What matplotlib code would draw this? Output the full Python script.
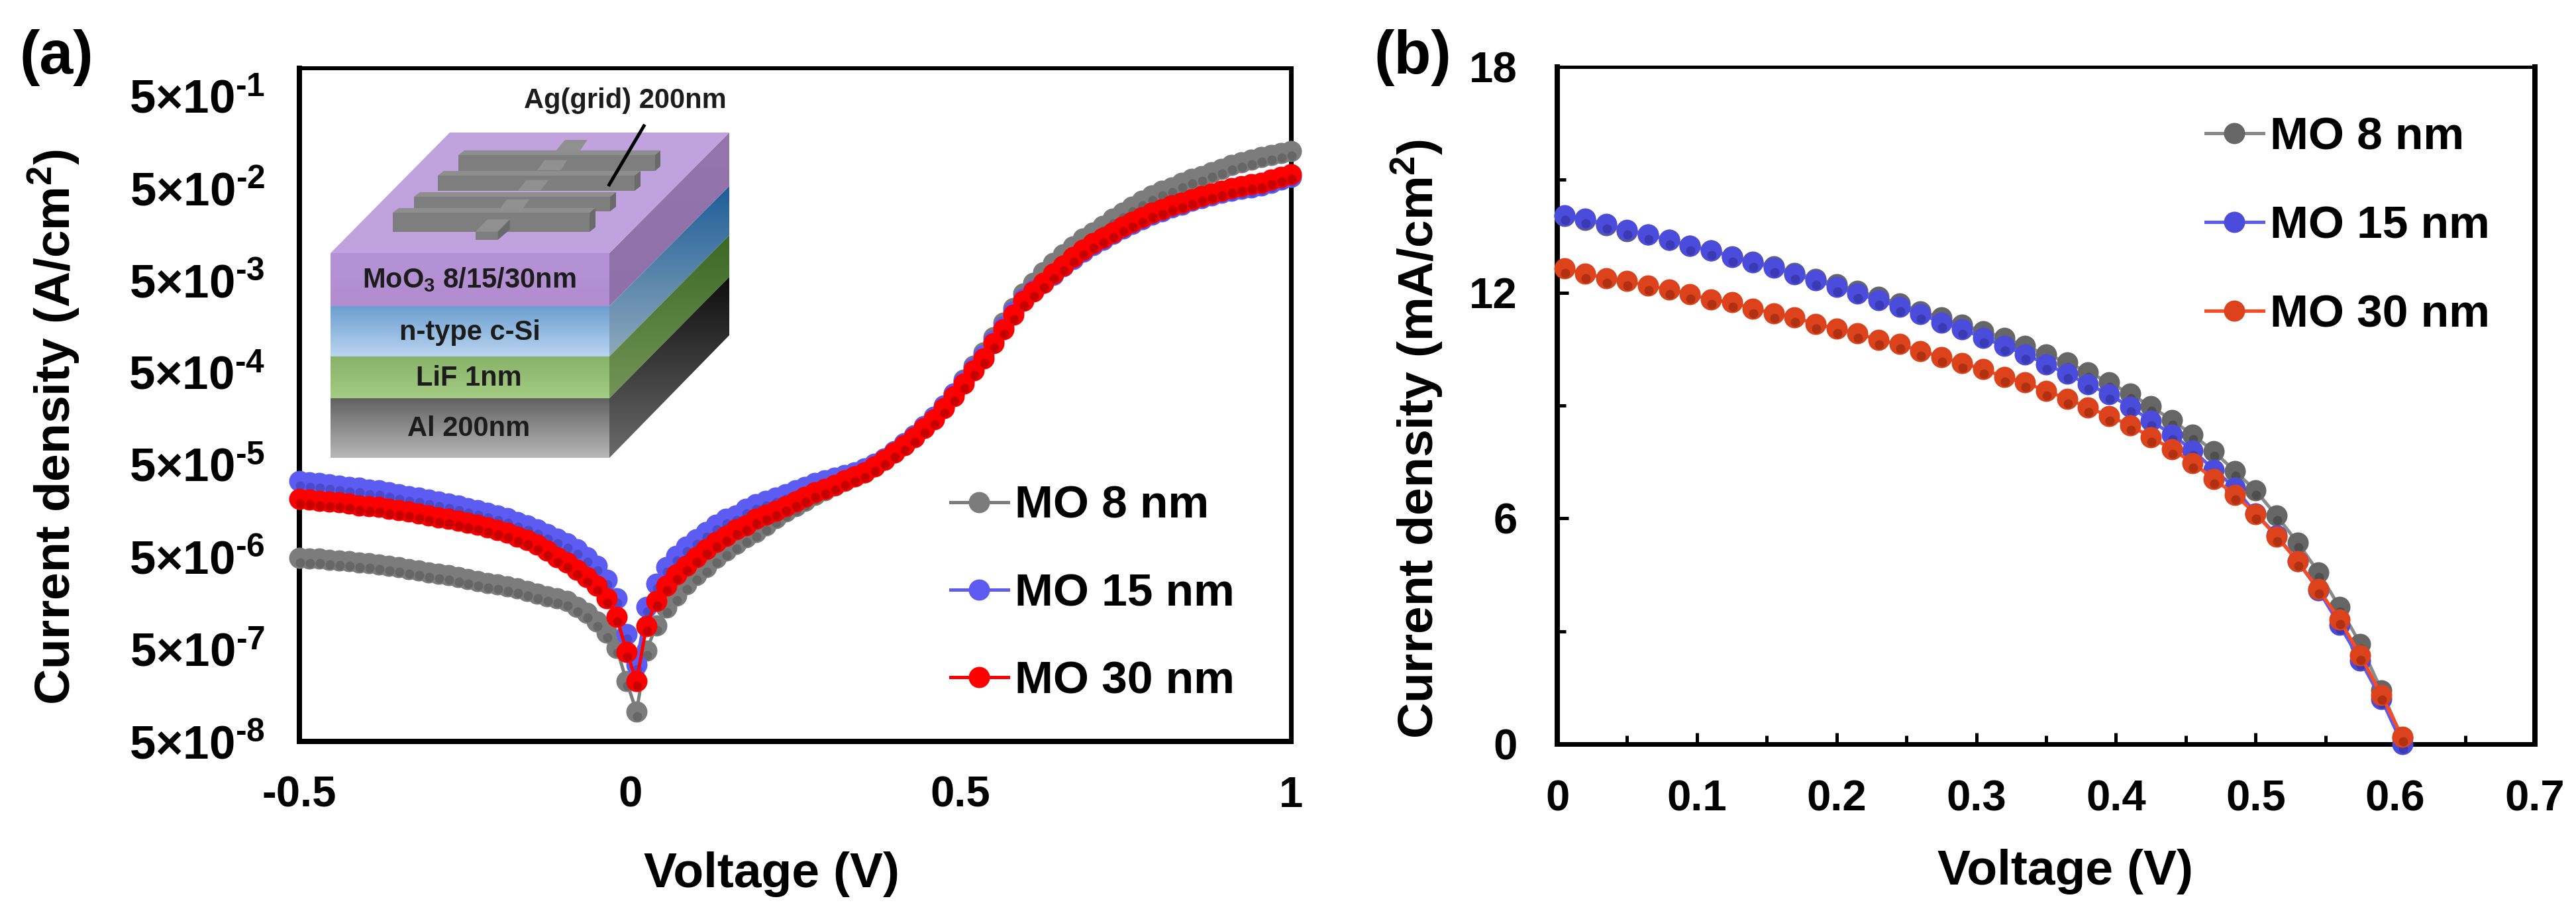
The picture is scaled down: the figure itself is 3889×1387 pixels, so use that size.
"""MoO3 contact cells: dark J-V (log scale) and light J-V panels, with the device stack inset."""
import matplotlib
matplotlib.use("Agg")
import matplotlib.pyplot as plt
import numpy as np
from matplotlib.colors import LinearSegmentedColormap
from matplotlib.patches import Polygon
from matplotlib.transforms import ScaledTranslation

plt.rcParams["font.family"] = ["Liberation Sans", "DejaVu Sans"]
plt.rcParams["font.weight"] = "bold"
plt.rcParams["axes.labelweight"] = "bold"
plt.rcParams["mathtext.fontset"] = "custom"
plt.rcParams["mathtext.rm"] = "Liberation Sans:bold"
plt.rcParams["mathtext.bf"] = "Liberation Sans:bold"
plt.rcParams["mathtext.it"] = "Liberation Sans:bold"
plt.rcParams["mathtext.default"] = "bf"

W, H, DPI = 3889, 1387, 100

labels = ["MO 8 nm", "MO 15 nm", "MO 30 nm"]

# panel (a): dark J-V, values are log10 of current density in A/cm2
v_dark = [-0.5, -0.485, -0.47, -0.455, -0.44, -0.425, -0.41, -0.395, -0.38, -0.365,
          -0.35, -0.335, -0.32, -0.305, -0.29, -0.275, -0.26, -0.245, -0.23, -0.215,
          -0.2, -0.185, -0.17, -0.155, -0.14, -0.125, -0.11, -0.095, -0.08, -0.065,
          -0.05, -0.035, -0.02, -0.005, 0.01, 0.025, 0.04, 0.055, 0.07, 0.085,
          0.1, 0.115, 0.13, 0.145, 0.16, 0.175, 0.19, 0.205, 0.22, 0.235,
          0.25, 0.265, 0.28, 0.295, 0.31, 0.325, 0.34, 0.355, 0.37, 0.385,
          0.4, 0.415, 0.43, 0.445, 0.46, 0.475, 0.49, 0.505, 0.52, 0.535,
          0.55, 0.565, 0.58, 0.595, 0.61, 0.625, 0.64, 0.655, 0.67, 0.685,
          0.7, 0.715, 0.73, 0.745, 0.76, 0.775, 0.79, 0.805, 0.82, 0.835,
          0.85, 0.865, 0.88, 0.895, 0.91, 0.925, 0.94, 0.955, 0.97, 0.985, 1.0]
logj_8 = [-5.31, -5.32, -5.32, -5.33, -5.34, -5.35, -5.36, -5.37, -5.38, -5.40,
          -5.41, -5.43, -5.45, -5.47, -5.48, -5.50, -5.52, -5.54, -5.56, -5.58,
          -5.60, -5.62, -5.64, -5.67, -5.70, -5.73, -5.75, -5.78, -5.84, -5.91,
          -6.00, -6.12, -6.29, -6.65, -6.98, -6.32, -6.04, -5.85, -5.72, -5.60,
          -5.50, -5.41, -5.31, -5.23, -5.16, -5.09, -5.03, -4.96, -4.88, -4.81,
          -4.75, -4.69, -4.63, -4.58, -4.53, -4.48, -4.43, -4.38, -4.32, -4.25,
          -4.17, -4.09, -4.00, -3.90, -3.80, -3.67, -3.53, -3.38, -3.23, -3.08,
          -2.92, -2.76, -2.60, -2.44, -2.33, -2.21, -2.11, -2.02, -1.93, -1.85,
          -1.78, -1.71, -1.63, -1.57, -1.50, -1.44, -1.38, -1.33, -1.29, -1.24,
          -1.20, -1.17, -1.13, -1.09, -1.05, -1.02, -0.99, -0.96, -0.94, -0.92, -0.90]
logj_15 = [-4.48, -4.49, -4.50, -4.51, -4.53, -4.54, -4.55, -4.57, -4.58, -4.60,
           -4.62, -4.64, -4.66, -4.68, -4.70, -4.72, -4.74, -4.77, -4.79, -4.82,
           -4.85, -4.88, -4.92, -4.96, -5.00, -5.05, -5.10, -5.15, -5.22, -5.30,
           -5.40, -5.55, -5.75, -6.14, -6.47, -5.84, -5.59, -5.41, -5.29, -5.19,
           -5.11, -5.03, -4.95, -4.89, -4.85, -4.78, -4.73, -4.69, -4.66, -4.62,
           -4.58, -4.54, -4.50, -4.47, -4.44, -4.41, -4.38, -4.34, -4.29, -4.23,
           -4.15, -4.07, -3.98, -3.88, -3.78, -3.66, -3.53, -3.39, -3.25, -3.11,
           -2.95, -2.80, -2.64, -2.50, -2.41, -2.33, -2.24, -2.15, -2.07, -1.99,
           -1.92, -1.86, -1.80, -1.74, -1.69, -1.64, -1.59, -1.55, -1.51, -1.48,
           -1.44, -1.41, -1.38, -1.35, -1.33, -1.31, -1.29, -1.27, -1.24, -1.21, -1.18]
logj_30 = [-4.67, -4.68, -4.69, -4.70, -4.71, -4.72, -4.74, -4.75, -4.76, -4.78,
           -4.79, -4.81, -4.83, -4.85, -4.87, -4.89, -4.91, -4.93, -4.95, -4.98,
           -5.01, -5.04, -5.08, -5.12, -5.17, -5.23, -5.30, -5.36, -5.44, -5.52,
           -5.61, -5.75, -5.95, -6.33, -6.65, -6.05, -5.78, -5.61, -5.49, -5.40,
           -5.30, -5.22, -5.14, -5.07, -5.00, -4.96, -4.89, -4.84, -4.80, -4.75,
           -4.70, -4.65, -4.60, -4.56, -4.52, -4.47, -4.43, -4.38, -4.32, -4.25,
           -4.17, -4.09, -4.00, -3.90, -3.81, -3.69, -3.56, -3.42, -3.28, -3.15,
           -2.98, -2.83, -2.67, -2.52, -2.42, -2.33, -2.23, -2.14, -2.05, -1.97,
           -1.90, -1.84, -1.78, -1.72, -1.67, -1.62, -1.57, -1.53, -1.49, -1.46,
           -1.42, -1.39, -1.36, -1.33, -1.30, -1.28, -1.26, -1.24, -1.21, -1.18, -1.15]
a_xticks = [-0.5, 0, 0.5, 1]
a_xticklabels = ["-0.5", "0", "0.5", "1"]
a_yticks = [5e-8, 5e-7, 5e-6, 5e-5, 5e-4, 5e-3, 5e-2, 5e-1]
a_exponents = [-8, -7, -6, -5, -4, -3, -2, -1]

# panel (b): light J-V in mA/cm2
v_light = [0.005, 0.02, 0.035, 0.05, 0.065, 0.08, 0.095, 0.11, 0.125, 0.14,
           0.155, 0.17, 0.185, 0.2, 0.215, 0.23, 0.245, 0.26, 0.275, 0.29,
           0.305, 0.32, 0.335, 0.35, 0.365, 0.38, 0.395, 0.41, 0.425, 0.44,
           0.455, 0.47, 0.485, 0.5, 0.515, 0.53, 0.545, 0.56, 0.575, 0.59, 0.605]
j_8 = [14.03, 13.93, 13.79, 13.64, 13.54, 13.40, 13.25, 13.13, 12.97, 12.83,
       12.70, 12.52, 12.37, 12.22, 12.05, 11.88, 11.71, 11.50, 11.34, 11.14,
       10.98, 10.80, 10.58, 10.36, 10.15, 9.88, 9.62, 9.31, 8.98, 8.61,
       8.22, 7.78, 7.26, 6.74, 6.07, 5.36, 4.57, 3.65, 2.66, 1.43, 0.15]
j_15 = [14.06, 13.96, 13.82, 13.66, 13.55, 13.40, 13.24, 13.12, 12.95, 12.80,
        12.67, 12.48, 12.32, 12.16, 11.97, 11.80, 11.62, 11.43, 11.21, 11.02,
        10.80, 10.58, 10.36, 10.10, 9.84, 9.56, 9.30, 8.96, 8.60, 8.23,
        7.81, 7.30, 6.82, 6.13, 5.55, 4.86, 4.09, 3.17, 2.22, 1.20, 0.0]
j_30 = [12.64, 12.51, 12.38, 12.31, 12.18, 12.09, 11.96, 11.81, 11.74, 11.58,
        11.45, 11.34, 11.17, 11.04, 10.92, 10.74, 10.63, 10.45, 10.29, 10.12,
        9.97, 9.75, 9.61, 9.39, 9.18, 8.95, 8.72, 8.47, 8.16, 7.84,
        7.47, 7.05, 6.63, 6.12, 5.52, 4.86, 4.12, 3.31, 2.36, 1.31, 0.19]
b_xticks = [0, 0.1, 0.2, 0.3, 0.4, 0.5, 0.6, 0.7]
b_xminor = [0.05, 0.15, 0.25, 0.35, 0.45, 0.55, 0.65]
b_yticks = [0, 6, 12, 18]
b_yminor = [3, 9, 15]

colors_a = ["#7c7c7c", "#5c5cf2", "#ff0000"]
dark_a = ["#555555", "#3c3cb0", "#9a0000"]
colors_b = ["#666666", "#4c4cdc", "#dc421c"]
line_b = ["#8a8a8a", "#5c5cf0", "#ff4a20"]
dark_b = ["#3c3c3c", "#2c2c90", "#8c2408"]


def px(n):
    return n * 72 / DPI


def rect(left, right, top, bottom):
    return [left / W, 1 - bottom / H, (right - left) / W, (bottom - top) / H]


def draw_series(ax, x, y, color, line, dark, label, fig):
    ax.plot(x, y, "-o", color=line, lw=px(5), ms=px(32), mfc=color, mec=color, mew=0,
            clip_on=False, zorder=3, label=label)
    # darker spot low in each ball, like the rendered spheres of the original
    shift = ScaledTranslation(px(1) / 72, -px(7) / 72, fig.dpi_scale_trans)
    ax.plot(x, y, "o", ms=px(14), mfc=dark, mew=0, alpha=0.55,
            transform=ax.transData + shift, clip_on=False, zorder=3)


def set_spines(ax, left, right, top, bottom):
    for side, w in zip(["left", "right", "top", "bottom"], [left, right, top, bottom]):
        ax.spines[side].set_linewidth(px(w))


def grad_face(ov, pts, c0, c1):
    # vertical gradient clipped to a polygon
    pts = np.array(pts, float)
    cmap = LinearSegmentedColormap.from_list("face", [c0, c1])
    im = ov.imshow(np.linspace(0, 1, 128)[:, None], cmap=cmap, aspect="auto",
                   extent=[pts[:, 0].min(), pts[:, 0].max(), pts[:, 1].max(), pts[:, 1].min()],
                   interpolation="bilinear", zorder=1)
    im.set_clip_path(Polygon(pts, transform=ov.transData))


def draw_stack(fig):
    ov = fig.add_axes([0, 0, 1, 1])
    ov.axis("off")

    def z(x, y):
        return (600 + x / 2.8, 120 + y / 2.613)

    layers = [(382, 462, 200, 281, "#b592d6", "#b28dd0", "#9475ae", "#8f70a8"),
              (462, 538, 281, 355, "#6c9fd0", "#bad4f0", "#1e5e98", "#8ea8bc"),
              (538, 601, 355, 418, "#88b26a", "#a4cc82", "#3c6824", "#729556"),
              (601, 691, 418, 506, "#626262", "#b8b8b8", "#0e0e0e", "#6a6a6a")]
    for y0, y1, b0, b1, f0, f1, s0, s1 in layers:
        grad_face(ov, [(499, y0), (920, y0), (920, y1), (499, y1)], f0, f1)
        grad_face(ov, [(920, y0), (1101, b0), (1101, b1), (920, y1)], s0, s1)
    ov.add_patch(Polygon([(499, 382), (679, 200), (1101, 200), (920, 382)],
                         fc="#c0a2de", ec="none", zorder=1))

    # silver grid: long fingers back to front, crossed by the bus bar
    bars = [(692, 989, 997, 234, 258), (661, 958, 967, 265, 288),
            (625, 921, 930, 297, 319), (593, 890, 899, 321, 350)]
    cross_top = [[(668, 283), (708, 238), (803, 238), (770, 283)],
                 [(590, 358), (622, 318), (718, 318), (690, 358)],
                 [(510, 438), (545, 397), (638, 397), (605, 438)],
                 [(430, 515), (462, 473), (558, 473), (525, 515)]]
    for (x0, x1, x2, y0, y1), piece in zip(bars, cross_top):
        ov.add_patch(Polygon([(x0, y0), (x1, y0), (x1, y1), (x0, y1)], fc="#7e7e7e", ec="none", zorder=2))
        ov.add_patch(Polygon([(x0, y0), (x0 + 9, y0 - 7), (x2, y0 - 7), (x1, y0)], fc="#8e8e8e", ec="none", zorder=2))
        ov.add_patch(Polygon([(x1, y0), (x2, y0 - 7), (x2, y1 - 7), (x1, y1)], fc="#6a6a6a", ec="none", zorder=2))
    for piece in cross_top[1:]:
        ov.add_patch(Polygon([z(*p) for p in piece], fc="#909090", ec="none", zorder=2))
    ov.add_patch(Polygon([z(*p) for p in cross_top[0]], fc="#909090", ec="none", zorder=1.5))
    ov.add_patch(Polygon([z(330, 600), z(380, 552), z(475, 552), z(425, 600)], fc="#909090", ec="none", zorder=2))
    ov.add_patch(Polygon([z(330, 600), z(425, 600), z(425, 632), z(330, 632)], fc="#7e7e7e", ec="none", zorder=2))
    ov.add_patch(Polygon([z(425, 600), z(475, 552), z(475, 592), z(425, 632)], fc="#6a6a6a", ec="none", zorder=2))

    ov.plot(*zip(z(1042, 183), z(895, 415)), color="black", lw=px(5), zorder=3)

    stack_texts = [("Ag(grid) 200nm", 944, 152), ("MoO$_3$ 8/15/30nm", 708, 422),
                   ("n-type c-Si", 709, 502), ("LiF 1nm", 708, 571), ("Al 200nm", 708, 647)]
    for s, x, y in stack_texts:
        ov.text(x, y, s, fontsize=30, color="#1c1c1c", ha="center", va="center", zorder=4)
    ov.set_xlim(0, W)
    ov.set_ylim(H, 0)


fig = plt.figure(figsize=(W / DPI, H / DPI), dpi=DPI)

# panel (a)
ax_a = fig.add_axes(rect(452, 1949, 103, 1119))
for y, c, ln, d, lab in zip([logj_8, logj_15, logj_30], colors_a, colors_a, dark_a, labels):
    draw_series(ax_a, v_dark, 10.0 ** np.array(y), c, ln, d, lab, fig)
ax_a.set_yscale("log")
ax_a.set_xlim(-0.5, 1)
ax_a.set_ylim(5e-8, 1)
ax_a.set_xticks(a_xticks)
ax_a.set_xticklabels(a_xticklabels, fontsize=47)
ax_a.set_yticks(a_yticks)
ax_a.set_yticklabels([f"$5{{\\times}}10^{{\u2010{abs(e)}}}$" for e in a_exponents], fontsize=51)
ax_a.minorticks_off()
ax_a.tick_params(axis="x", length=0, pad=px(52))
ax_a.tick_params(axis="y", length=0, pad=px(52))
set_spines(ax_a, 8, 7, 6, 8)
ax_a.set_xlabel("Voltage (V)", fontsize=54, va="center")
ax_a.xaxis.set_label_coords((1165 - 452) / 1497, -(1320 - 1119) / 1016)
ax_a.set_ylabel("Current density (A/cm$^2$)", fontsize=54, va="center")
ax_a.yaxis.set_label_coords(-(452 - 82) / 1497, (1119 - 645) / 1016)
ax_a.legend(loc="upper left", bbox_to_anchor=((1435 - 452) / 1497, 1 - (732 - 103) / 1016),
            frameon=False, fontsize=50, handlelength=1.25, handletextpad=0.14,
            labelspacing=0.98, borderpad=0, borderaxespad=0)

# panel (b)
ax_b = fig.add_axes(rect(2351, 3827, 101, 1123))
for y, c, ln, d, lab in zip([j_8, j_15, j_30], colors_b, line_b, dark_b, labels):
    draw_series(ax_b, v_light, y, c, ln, d, lab, fig)
ax_b.set_xlim(0, 0.7)
ax_b.set_ylim(0, 18)
ax_b.set_xticks(b_xticks)
ax_b.set_xticklabels(["0", "0.1", "0.2", "0.3", "0.4", "0.5", "0.6", "0.7"], fontsize=47)
ax_b.set_xticks(b_xminor, minor=True)
ax_b.set_yticks(b_yticks)
ax_b.set_yticklabels([str(t) for t in b_yticks], fontsize=47)
ax_b.set_yticks(b_yminor, minor=True)
ax_b.tick_params(which="major", direction="in", length=px(17), width=px(5))
ax_b.tick_params(which="minor", direction="in", length=px(13), width=px(5))
ax_b.tick_params(axis="x", which="major", pad=px(54))
ax_b.tick_params(axis="y", which="major", pad=px(60))
set_spines(ax_b, 8, 8, 5, 7)
ax_b.set_xlabel("Voltage (V)", fontsize=54, va="center")
ax_b.xaxis.set_label_coords((3118 - 2351) / 1476, -(1315 - 1123) / 1022)
ax_b.set_ylabel("Current density (mA/cm$^2$)", fontsize=54, va="center")
ax_b.yaxis.set_label_coords(-(2351 - 2140) / 1476, (1123 - 662) / 1022)
ax_b.legend(loc="upper left", bbox_to_anchor=((3330 - 2351) / 1476, 1 - (175 - 101) / 1022),
            frameon=False, fontsize=50, handlelength=1.25, handletextpad=0.14,
            labelspacing=1.01, borderpad=0, borderaxespad=0)

draw_stack(fig)

fig.text(85 / W, 1 - 87 / H, "(a)", fontsize=66, ha="center", va="center")
fig.text(2133 / W, 1 - 87 / H, "(b)", fontsize=66, ha="center", va="center")

fig.savefig("out.png", dpi=DPI, facecolor="white")
